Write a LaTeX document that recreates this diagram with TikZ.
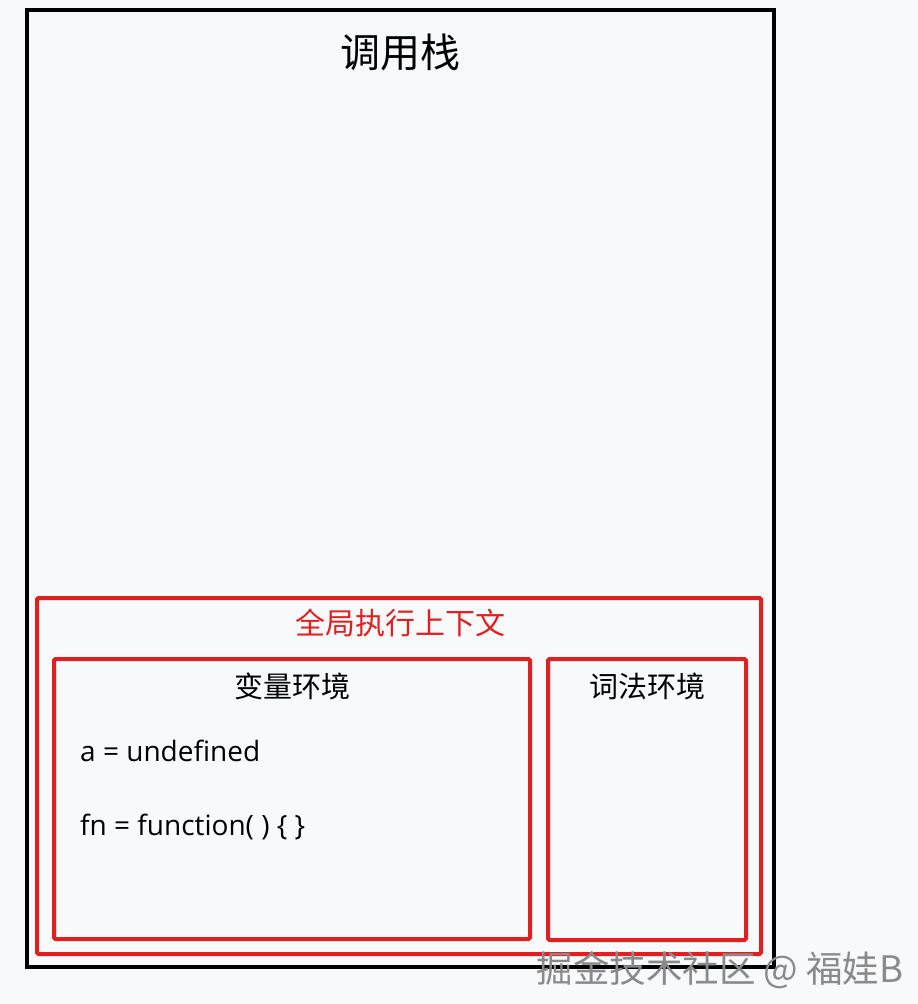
\documentclass[tikz,border=0pt]{standalone}
\usepackage{fontspec}
\setmainfont{Open Sans}
\newfontfamily\cjk{Noto Sans CJK SC}
\definecolor{bg}{HTML}{F8F9FB}
\definecolor{redbox}{HTML}{E02020}
\definecolor{wm}{HTML}{8A8A8A}
\begin{document}
\begin{tikzpicture}[x=1pt,y=-1pt,
  blackbox/.style={draw=black,line width=4pt},
  redframe/.style={draw=redbox,line width=4pt,rounded corners=1.5pt},
  lbl/.style={inner sep=0pt,anchor=center},
  code/.style={inner sep=0pt,anchor=west,font=\fontsize{28}{33}\selectfont}]
\fill[bg] (0,0) rectangle (918,1004);
\useasboundingbox (0,0) rectangle (918,1004);
\draw[blackbox] (27,10) rectangle (774,967);
\node[lbl,font=\cjk\fontsize{40}{46}\selectfont] (title) at (400,52) {调用栈};
\draw[redframe] (37,598) rectangle (761,954);
\node[lbl,text=redbox,font=\cjk\fontsize{30}{36}\selectfont] (gec) at (400,623) {全局执行上下文};
\draw[redframe] (54,659) rectangle (530,939);
\node[lbl,font=\cjk\fontsize{29}{34}\selectfont] (varenv) at (292,686) {变量环境};
\draw[redframe] (548,659) rectangle (746,940);
\node[lbl,font=\cjk\fontsize{29}{34}\selectfont] (lexenv) at (647,686) {词法环境};
\node[code] (a) at (80,751) {a = undefined};
\node[code] (fn) at (80,827) {fn = function( ) \{ \}};
\node[lbl,text=wm,font=\cjk\fontsize{36.5}{42}\selectfont] (wm) at (720,970) {掘金技术社区 @ 福娃B};
\end{tikzpicture}
\end{document}
